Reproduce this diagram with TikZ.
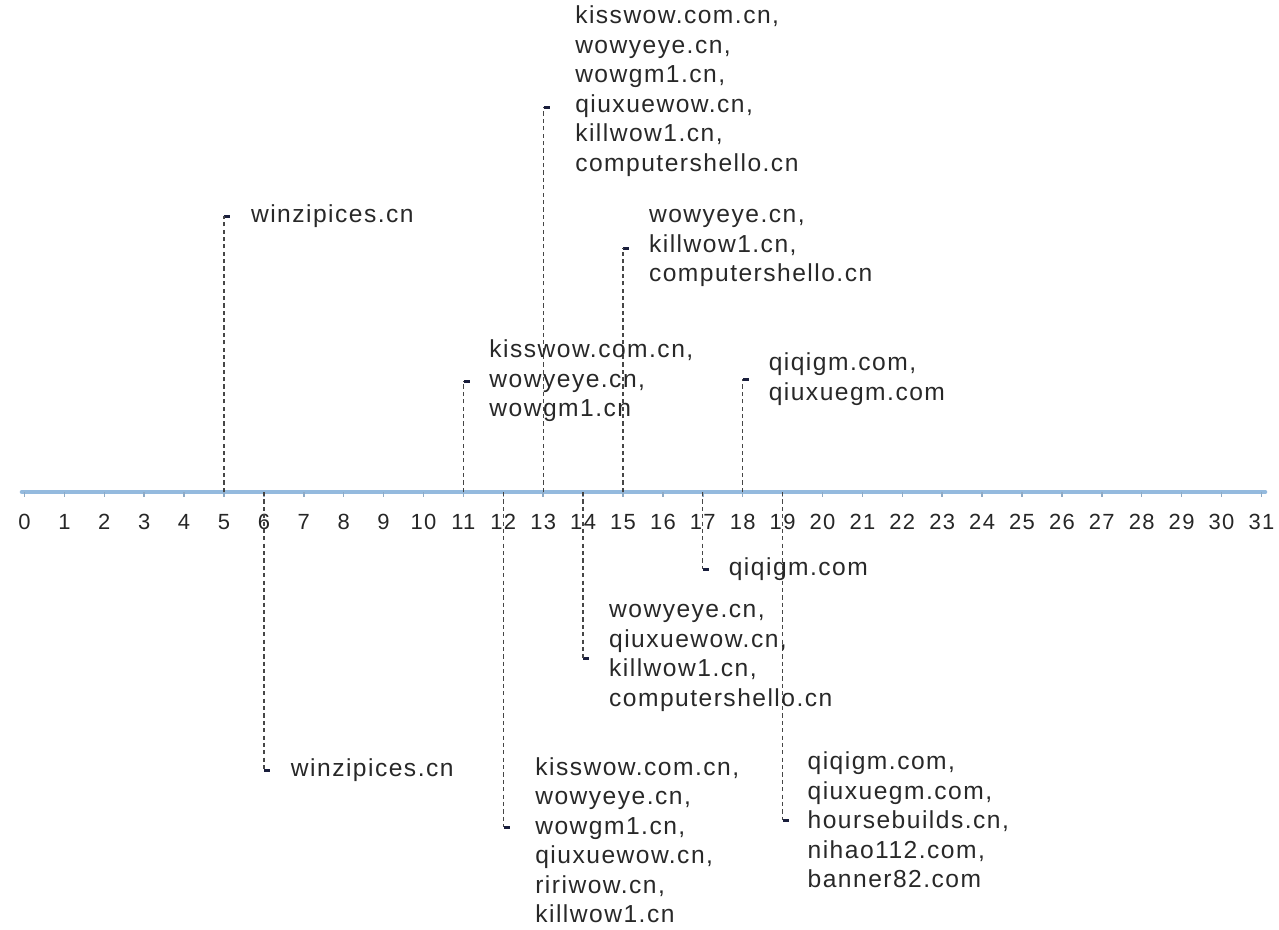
\documentclass[tikz,border=0pt]{standalone}
\usepackage{fontspec}
\setmainfont{Liberation Sans}[LetterSpace=6]
\usetikzlibrary{positioning}
\definecolor{axisblue}{RGB}{148,186,222}
\definecolor{linkgray}{RGB}{70,70,70}
\definecolor{markblue}{RGB}{25,30,60}
\definecolor{textgray}{RGB}{40,40,40}

\begin{document}
\begin{tikzpicture}[
 x=0.02cm, y=-0.02cm,
 axisline/.style={draw=axisblue, line width=2.6pt, line cap=round},
 axistick/.style={draw=axisblue!75!gray, line width=0.9pt},
 link/.style={draw=linkgray, dash pattern=on 2.4pt off 1.8pt, line width=0.75pt},
 markbar/.style={rectangle, fill=markblue, minimum width=0.12cm, minimum height=0.06cm, inner sep=0pt, anchor=west},
 domlabel/.style={anchor=west, inner sep=0pt, align=left, text=textgray, font=\fontsize{14}{16.8}\selectfont},
 ticknum/.style={inner sep=0pt, text=black!85, font=\fontsize{12.5}{14}\selectfont}
]
\useasboundingbox (0,0) rectangle (1279,930);

% Time axis
\coordinate (axstart) at (22,492);
\coordinate (axend) at (1265,492);
\draw[axisline] (axstart) -- (axend);
\foreach \n in {0,...,31} {
 \coordinate (t\n) at ({24.5+39.9*\n},492);
 \draw[axistick] (t\n) -- ++(0,5);
 \node[ticknum] (n\n) at ({24.5+39.9*\n},522) {\n};
}

% Markers above the axis
\node[markbar] (m5) at (t5 |- 0,216) {};
\node[markbar] (m11) at (t11 |- 0,381) {};
\node[markbar] (m13) at (t13 |- 0,107) {};
\node[markbar] (m15) at (t15 |- 0,248) {};
\node[markbar] (m18) at (t18 |- 0,379) {};

% Markers below the axis
\node[markbar] (m6) at (t6 |- 0,770) {};
\node[markbar] (m12) at (t12 |- 0,827) {};
\node[markbar] (m14) at (t14 |- 0,658) {};
\node[markbar] (m17) at (t17 |- 0,569) {};
\node[markbar] (m19) at (t19 |- 0,820) {};

% Dashed drop lines
\foreach \n in {5,11,13,15,18,6,12,14,17,19} {
 \draw[link] (t\n) -- (m\n.west);
}

% Domain labels
\node[domlabel, right=0.4cm of m5] (l5) {winzipices.cn};
\node[domlabel, right=0.38cm of m11] (l11) {kisswow.com.cn,\\wowyeye.cn,\\wowgm1.cn};
\node[domlabel, right=0.5cm of m13, yshift=0.32cm] (l13) {kisswow.com.cn,\\wowyeye.cn,\\wowgm1.cn,\\qiuxuewow.cn,\\killwow1.cn,\\computershello.cn};
\node[domlabel, right=0.38cm of m15] (l15) {wowyeye.cn,\\killwow1.cn,\\computershello.cn};
\node[domlabel, right=0.38cm of m18] (l18) {qiqigm.com,\\qiuxuegm.com};

\node[domlabel, right=0.4cm of m6] (l6) {winzipices.cn};
\node[domlabel, right=0.5cm of m12, yshift=-0.26cm] (l12) {kisswow.com.cn,\\wowyeye.cn,\\wowgm1.cn,\\qiuxuewow.cn,\\ririwow.cn,\\killwow1.cn};
\node[domlabel, right=0.38cm of m14] (l14) {wowyeye.cn,\\qiuxuewow.cn,\\killwow1.cn,\\computershello.cn};
\node[domlabel, right=0.38cm of m17] (l17) {qiqigm.com};
\node[domlabel, right=0.36cm of m19] (l19) {qiqigm.com,\\qiuxuegm.com,\\hoursebuilds.cn,\\nihao112.com,\\banner82.com};
\end{tikzpicture}
\end{document}
